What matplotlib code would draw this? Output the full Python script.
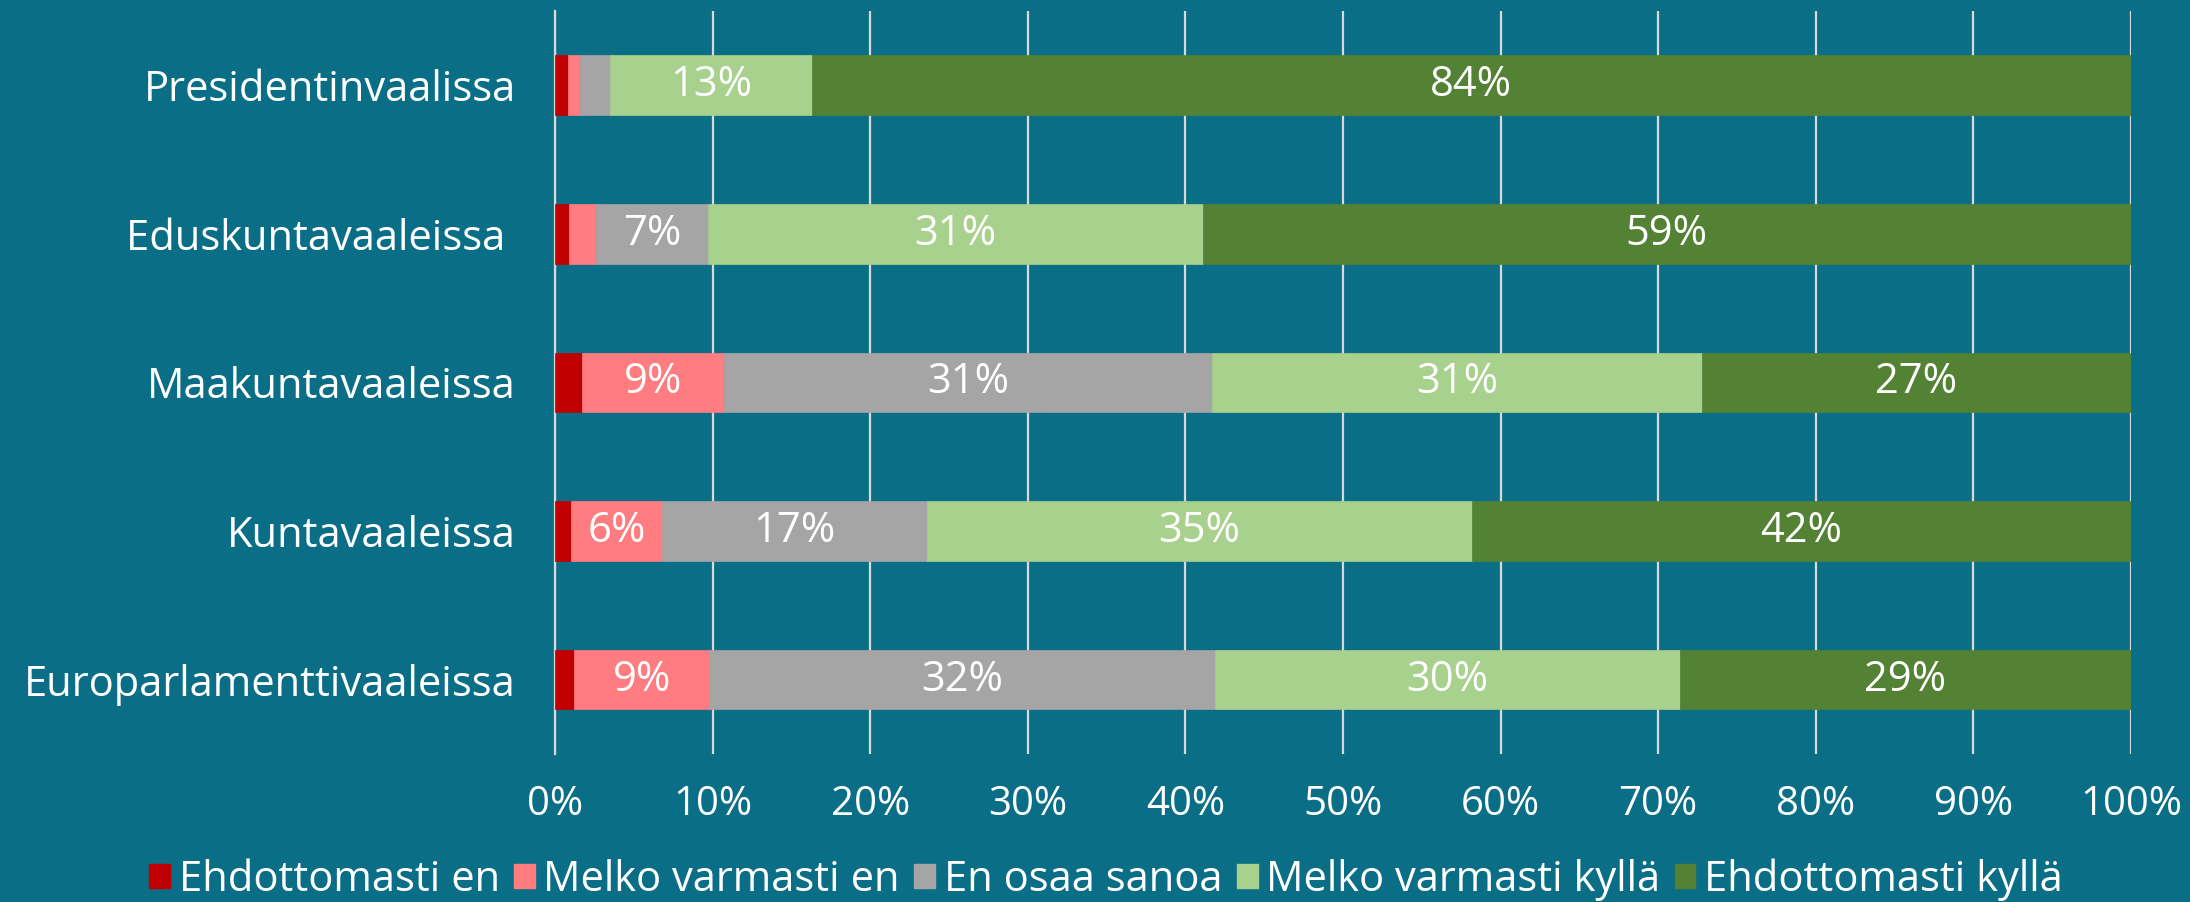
import numpy as np
import matplotlib.pyplot as plt
from matplotlib.patches import Patch

# data
categories = ["Presidentinvaalissa", "Eduskuntavaaleissa ", "Maakuntavaaleissa",
              "Kuntavaaleissa", "Europarlamenttivaaleissa"]
series_names = ["Ehdottomasti en", "Melko varmasti en", "En osaa sanoa",
                "Melko varmasti kyllä", "Ehdottomasti kyllä"]
ehd_en = [0.8, 0.9, 1.7, 1.0, 1.2]
melko_en = [0.8, 1.7, 9.0, 5.8, 8.6]
eos = [1.9, 7.1, 31.0, 16.8, 32.1]
melko_kylla = [12.8, 31.4, 31.1, 34.6, 29.5]
ehd_kylla = [83.7, 58.9, 27.2, 41.8, 28.6]
ticks = [0, 10, 20, 30, 40, 50, 60, 70, 80, 90, 100]

colors = ["#C00000", "#FF7C80", "#A5A5A5", "#A9D18E", "#548235"]
bg = "#0B6E87"
grid_c = "#D9D9D9"

plt.rcParams['font.family'] = ['Open Sans', 'DejaVu Sans']

fig = plt.figure(figsize=(21.9, 9.02), dpi=100, facecolor=bg)
ax = fig.add_axes([0.2534, 0.164, 0.7196, 0.824])
ax.set_facecolor(bg)

y = np.arange(len(categories))
left = np.zeros(len(categories))
all_series = [ehd_en, melko_en, eos, melko_kylla, ehd_kylla]
for vals, col in zip(all_series, colors):
    vals = np.array(vals)
    ax.barh(y, vals, left=left, height=0.4, color=col, edgecolor=col,
            linewidth=0.5, zorder=3)
    for yi, (l, v) in enumerate(zip(left, vals)):
        if v >= 3:
            ax.text(l + v / 2, yi, f"{v:.0f}%", ha='center', va='center',
                    color='white', fontsize=30, zorder=4)
    left += vals

ax.set_xlim(0, 100)
ax.set_ylim(len(categories) - 0.5, -0.5)
ax.set_xticks(ticks)
ax.set_xticklabels([f"{t}%" for t in ticks])
ax.set_yticks(y)
ax.set_yticklabels(categories)
ax.tick_params(axis='x', colors='white', labelsize=29, length=0, pad=22)
ax.tick_params(axis='y', colors='white', labelsize=30, length=0, pad=28)
ax.grid(axis='x', color=grid_c, linewidth=1.6, zorder=1)
for s in ['top', 'right', 'bottom']:
    ax.spines[s].set_visible(False)
ax.spines['left'].set_color(grid_c)
ax.spines['left'].set_linewidth(1.6)

handles = [Patch(facecolor=c, edgecolor=c) for c in colors]
fig.legend(handles, series_names, loc='lower center', bbox_to_anchor=(0.505, -0.04),
           ncol=5, frameon=False, fontsize=30, labelcolor='white',
           handlelength=0.5, handleheight=0.5, handletextpad=0.2,
           columnspacing=0.35)

fig.savefig("out.png", dpi=100, facecolor=bg)
